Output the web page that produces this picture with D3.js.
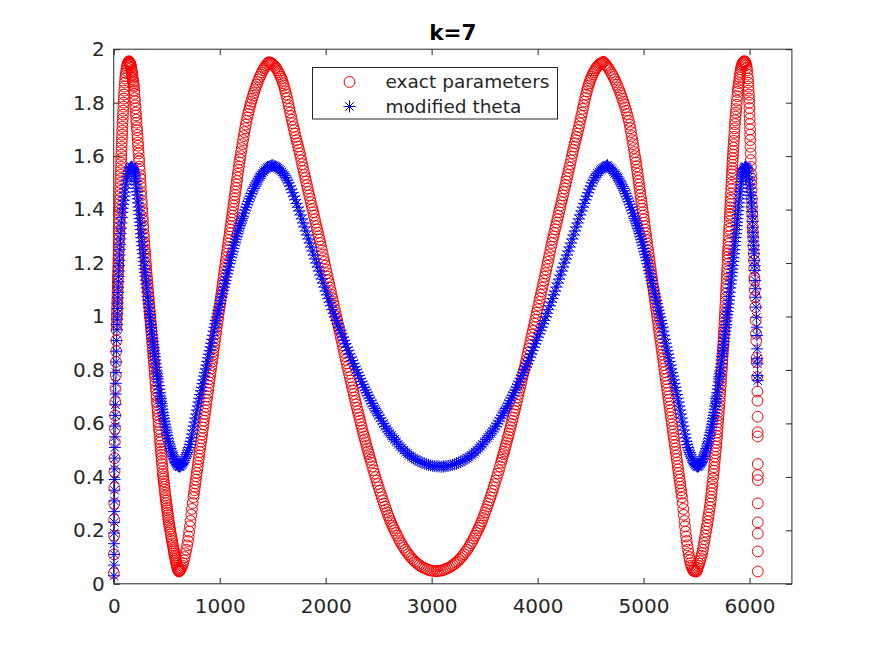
<!DOCTYPE html>
<html>
<head>
<meta charset="utf-8">
<script src="https://cdn.jsdelivr.net/npm/d3@7"></script>
<style>
body { margin: 0; background: #fff; }
svg text { font-family: "DejaVu Sans", sans-serif; }
</style>
</head>
<body>
<div id="chart"></div>
<script>
// Axis setup
const xDomain = [0, 6400];
const yDomain = [0, 2];
const xTicks = [0, 1000, 2000, 3000, 4000, 5000, 6000];
const yTicks = [0, 0.2, 0.4, 0.6, 0.8, 1, 1.2, 1.4, 1.6, 1.8, 2];
const titleText = "k=7";
const seriesNames = ["exact parameters", "modified theta"];

// Red circles, [x, y]
const exactParams = [
[1,.04],[2,.11],[3,.18],[4,.24],[5,.30],[6,.36],[7,.42],[8,.47],[10,.53],[11,.58],[13,.63],[15,.68],[17,.73],[19,.78],[21,.83],[23,.87],[25,.91],[27,.95],[28,.97],[29,.99],[30,1.005],[31,1.02],[32,1.035],[33,1.05],[34,1.065],[35,1.08],[36,1.095],[37,1.11],[38,1.125],[39,1.14],[40,1.155],[41,1.17],[42,1.185],[43,1.2],[44,1.215],[45,1.23],[46,1.245],[47,1.26],[48,1.275],[49,1.29],[50,1.305],[51,1.32],[52,1.335],[53,1.35],[54,1.365],[55,1.38],[56,1.395],[57,1.41],[58,1.425],[59,1.44],[60,1.455],[61,1.47],[62,1.485],[63,1.5],[64,1.515],[65,1.53],[66,1.545],[68,1.56],[69,1.575],[70,1.59],[71,1.605],[73,1.62],[74,1.635],[76,1.65],[77,1.665],[79,1.68],[80,1.695],[82,1.71],[83,1.725],[85,1.74],[87,1.755],[89,1.77],[91,1.785],[93,1.8],[95,1.815],[97,1.83],[99,1.845],[102,1.86],[105,1.875],[108,1.89],[111,1.9],[115,1.91],[118,1.92],[122,1.93],[126,1.938],[131,1.945],[136,1.95],[142,1.955],
[145,1.953],[148,1.951],[150,1.95],[153,1.947],[155,1.945],[158,1.942],[160,1.94],[163,1.934],[165,1.93],[168,1.922],[170,1.916],[173,1.908],[175,1.902],[178,1.894],[180,1.888],[183,1.88],[185,1.874],[188,1.866],[190,1.86],[193,1.844],[195,1.833],[198,1.817],[200,1.806],[203,1.79],[205,1.779],[208,1.763],[210,1.752],[213,1.736],[215,1.725],[218,1.708],[220,1.697],[223,1.68],[225,1.668],[228,1.651],[230,1.639],[233,1.622],[235,1.61],[238,1.592],[240,1.58],[243,1.561],[245,1.548],[248,1.529],[250,1.516],[253,1.498],[255,1.485],[258,1.466],[260,1.453],[263,1.434],[265,1.421],[268,1.402],[270,1.39],[273,1.371],[275,1.359],[278,1.34],[280,1.328],[283,1.309],[285,1.296],[288,1.279],[290,1.268],[293,1.252],[295,1.241],[298,1.225],[300,1.214],[303,1.198],[305,1.187],[308,1.171],[310,1.16],[313,1.146],[315,1.136],[318,1.122],[320,1.112],[323,1.098],[325,1.088],[328,1.074],[330,1.064],[333,1.05],[335,1.04],[338,1.026],[340,1.016],[343,1.002],[345,.992],[348,.978],[350,.968],[353,.954],[355,.944],[358,.93],[360,.92],[363,.906],[365,.896],[368,.882],[370,.872],[373,.858],[375,.848],[378,.834],[380,.824],[383,.81],[385,.8],[388,.784],[390,.774],[393,.758],[395,.748],[398,.732],[400,.722],[403,.706],[405,.696],[408,.68],[410,.67],[413,.655],[415,.645],[418,.63],[420,.62],[423,.605],[425,.595],[428,.58],[430,.57],[433,.555],[436,.54],[438,.529],[441,.517],[443,.506],[446,.494],[448,.483],[451,.471],[453,.46],[456,.448],[459,.434],[462,.42],[464,.411],[467,.402],[469,.393],[472,.384],[475,.373],[478,.363],[481,.352],[484,.341],[487,.33],[490,.32],[493,.311],[496,.302],[499,.293],[502,.284],[505,.275],[508,.266],[511,.257],[514,.248],[517,.239],[520,.23],[524,.222],[527,.214],[531,.205],[535,.197],[539,.186],[543,.176],[547,.168],[550,.16],[554,.151],[558,.143],[562,.134],[566,.126],[569,.119],[572,.113],[575,.106],[578,.1],[582,.093],[585,.087],[589,.08],[592,.074],[596,.067],[600,.06],[604,.056],[608,.052],[612,.049],[615,.046],
[620,.048],[625,.05],[632,.055],[640,.06],[648,.068],[655,.077],[663,.088],[670,.1],[678,.114],[685,.128],[693,.144],[700,.16],[706,.177],[712,.195],[719,.215],[725,.235],[732,.258],[738,.28],[745,.302],[752,.324],[757,.337],[761,.35],[766,.363],[770,.376],[775,.389],[779,.402],[784,.415],[788,.428],[793,.441],[797,.454],[802,.467],[806,.48],[811,.493],[815,.506],[820,.519],[824,.532],[829,.545],[833,.558],[838,.571],[842,.584],[847,.597],[851,.61],[856,.623],[860,.636],[865,.649],[869,.662],[874,.675],[878,.688],[883,.701],[887,.714],[892,.727],[896,.74],[901,.753],[905,.766],[910,.779],[914,.792],[919,.805],[923,.818],[928,.831],[932,.844],[937,.857],[941,.87],[946,.883],[950,.896],[955,.909],[959,.922],[964,.935],[968,.948],[973,.961],[977,.974],[982,.987],[986,1],[991,1.013],[995,1.026],[1000,1.039],[1004,1.052],[1009,1.065],[1013,1.078],[1018,1.091],[1022,1.104],[1027,1.117],[1031,1.13],[1036,1.143],[1040,1.156],[1045,1.169],[1049,1.182],[1054,1.195],[1058,1.208],[1063,1.221],[1067,1.234],[1072,1.247],[1076,1.26],[1081,1.273],[1085,1.286],[1090,1.299],[1094,1.312],[1099,1.325],[1103,1.338],[1108,1.351],[1112,1.364],[1117,1.377],[1121,1.39],[1126,1.403],[1130,1.416],[1135,1.429],[1139,1.442],[1144,1.455],[1148,1.468],[1153,1.481],[1157,1.494],[1162,1.507],[1166,1.52],[1171,1.534],[1176,1.548],[1181,1.562],[1186,1.576],[1191,1.588],[1196,1.6],[1202,1.615],[1208,1.63],[1214,1.645],[1220,1.66],[1227,1.675],[1233,1.69],[1240,1.704],[1246,1.718],[1253,1.732],[1260,1.745],[1268,1.758],[1275,1.77],[1283,1.782],[1290,1.793],[1298,1.804],[1306,1.815],[1314,1.826],[1322,1.836],[1331,1.847],[1340,1.857],[1349,1.867],[1358,1.877],[1368,1.887],[1378,1.896],[1388,1.905],[1398,1.913],[1408,1.921],[1418,1.928],[1428,1.934],[1438,1.94],[1448,1.945],[1459,1.95],
[1467,1.951],[1475,1.95],[1485,1.948],[1495,1.946],[1505,1.942],[1515,1.938],[1525,1.933],[1535,1.928],[1545,1.921],[1555,1.914],[1565,1.906],[1575,1.897],[1583,1.89],[1590,1.882],[1598,1.873],[1605,1.864],[1613,1.853],[1620,1.842],[1628,1.83],[1635,1.818],[1643,1.804],[1650,1.79],[1658,1.777],[1665,1.763],[1673,1.75],[1680,1.736],[1688,1.723],[1695,1.709],[1703,1.697],[1710,1.684],[1718,1.672],[1725,1.66],[1733,1.648],[1740,1.636],[1748,1.624],[1755,1.611],[1763,1.598],[1770,1.584],[1778,1.57],[1785,1.557],[1793,1.544],[1800,1.53],[1808,1.518],[1815,1.505],[1823,1.492],[1830,1.479],[1838,1.466],[1845,1.453],[1853,1.44],[1860,1.428],[1868,1.415],[1875,1.402],[1883,1.39],[1890,1.377],[1898,1.364],[1905,1.351],[1913,1.338],[1920,1.326],[1928,1.313],[1935,1.3],[1943,1.288],[1950,1.275],[1958,1.261],[1965,1.247],[1973,1.232],[1980,1.218],[1988,1.204],[1995,1.19],[2003,1.176],[2010,1.162],[2018,1.149],[2025,1.135],[2033,1.122],[2040,1.108],[2048,1.095],[2055,1.081],[2063,1.068],[2070,1.054],[2078,1.041],[2085,1.027],[2093,1.014],[2100,1],[2108,.987],[2115,.973],[2123,.96],[2130,.946],[2138,.933],[2145,.919],[2153,.906],[2160,.892],[2168,.879],[2175,.865],[2183,.852],[2190,.838],[2198,.825],[2205,.811],[2213,.799],[2220,.786],[2228,.773],[2235,.76],[2243,.748],[2250,.735],[2258,.723],[2265,.71],[2273,.697],[2280,.684],[2288,.671],[2295,.658],[2303,.646],[2310,.634],[2318,.622],[2325,.61],[2333,.598],[2340,.586],[2348,.574],[2355,.562],[2363,.551],[2370,.54],[2378,.529],[2385,.517],[2393,.506],[2400,.495],[2408,.485],[2415,.474],[2423,.464],[2430,.453],[2440,.439],[2450,.425],[2460,.412],[2470,.399],[2480,.386],[2490,.373],[2500,.361],[2510,.348],[2520,.336],[2530,.324],[2540,.312],[2550,.3],[2560,.289],[2570,.278],[2580,.267],[2590,.256],[2600,.246],[2610,.235],[2620,.226],[2630,.217],[2640,.209],[2650,.2],[2663,.19],[2675,.18],[2688,.17],[2700,.16],[2713,.152],[2725,.143],[2738,.135],[2750,.127],[2765,.119],[2780,.111],[2795,.104],[2810,.096],[2825,.09],[2840,.084],[2855,.079],[2870,.074],[2885,.07],[2900,.065],[2918,.061],[2935,.058],[2953,.055],[2970,.052],[2988,.05],[3005,.049],[3025,.048],[3045,.047],
[3060,.048],[3080,.049],[3097,.05],[3115,.052],[3132,.055],[3150,.058],[3167,.061],[3185,.065],[3200,.07],[3215,.074],[3230,.079],[3245,.084],[3260,.09],[3275,.096],[3290,.104],[3305,.111],[3320,.119],[3335,.127],[3347,.135],[3360,.143],[3372,.152],[3385,.16],[3397,.17],[3410,.18],[3422,.19],[3435,.2],[3445,.209],[3455,.217],[3465,.226],[3475,.235],[3485,.246],[3495,.256],[3505,.267],[3515,.278],[3525,.289],[3535,.3],[3545,.312],[3555,.324],[3565,.336],[3575,.348],[3585,.361],[3595,.373],[3605,.386],[3615,.399],[3625,.412],[3635,.425],[3645,.439],[3655,.453],[3662,.464],[3670,.474],[3677,.485],[3685,.495],[3692,.506],[3700,.517],[3707,.529],[3715,.54],[3722,.551],[3730,.562],[3737,.574],[3745,.586],[3752,.598],[3760,.61],[3767,.622],[3775,.634],[3782,.646],[3790,.658],[3797,.671],[3805,.684],[3812,.697],[3820,.71],[3827,.723],[3835,.735],[3842,.748],[3850,.76],[3857,.773],[3865,.786],[3872,.799],[3880,.811],[3887,.825],[3895,.838],[3902,.852],[3910,.865],[3917,.879],[3925,.892],[3932,.906],[3940,.919],[3947,.933],[3955,.946],[3962,.96],[3970,.973],[3977,.987],[3985,1],[3992,1.014],[4000,1.027],[4007,1.041],[4015,1.054],[4022,1.068],[4030,1.081],[4037,1.095],[4045,1.108],[4052,1.122],[4060,1.135],[4067,1.149],[4075,1.162],[4082,1.176],[4090,1.19],[4097,1.204],[4105,1.218],[4112,1.232],[4120,1.247],[4127,1.261],[4135,1.275],[4142,1.288],[4150,1.3],[4157,1.313],[4165,1.326],[4172,1.338],[4180,1.351],[4187,1.364],[4195,1.377],[4202,1.39],[4210,1.402],[4217,1.415],[4225,1.428],[4232,1.44],[4240,1.453],[4247,1.466],[4255,1.479],[4262,1.492],[4270,1.505],[4277,1.518],[4285,1.53],[4292,1.544],[4300,1.557],[4307,1.57],[4315,1.584],[4322,1.598],[4330,1.611],[4337,1.624],[4345,1.636],[4352,1.648],[4360,1.66],[4367,1.672],[4375,1.684],[4382,1.697],[4390,1.709],[4397,1.723],[4405,1.736],[4412,1.75],[4420,1.763],[4427,1.777],[4435,1.79],[4442,1.804],[4450,1.818],[4457,1.83],[4465,1.842],[4472,1.853],[4480,1.864],[4487,1.873],[4495,1.882],[4502,1.89],[4510,1.897],[4520,1.906],[4530,1.914],[4540,1.921],[4550,1.928],[4560,1.933],[4570,1.938],[4580,1.942],[4590,1.946],[4600,1.948],[4610,1.95],[4618,1.951],[4623,1.953],
[4637,1.945],[4648,1.94],[4659,1.934],[4670,1.928],[4681,1.921],[4692,1.913],[4704,1.905],[4715,1.896],[4727,1.887],[4738,1.877],[4749,1.867],[4759,1.857],[4770,1.847],[4780,1.836],[4790,1.826],[4799,1.815],[4809,1.804],[4818,1.793],[4827,1.782],[4836,1.77],[4844,1.758],[4853,1.745],[4861,1.732],[4869,1.718],[4875,1.704],[4882,1.69],[4888,1.675],[4895,1.66],[4901,1.645],[4907,1.63],[4913,1.615],[4919,1.6],[4924,1.588],[4929,1.576],[4934,1.562],[4939,1.548],[4944,1.534],[4949,1.52],[4953,1.507],[4958,1.494],[4962,1.481],[4967,1.468],[4971,1.455],[4976,1.442],[4980,1.429],[4985,1.416],[4989,1.403],[4994,1.39],[4998,1.377],[5003,1.364],[5007,1.351],[5012,1.338],[5016,1.325],[5021,1.312],[5025,1.299],[5030,1.286],[5034,1.273],[5039,1.26],[5043,1.247],[5048,1.234],[5052,1.221],[5057,1.208],[5061,1.195],[5066,1.182],[5070,1.169],[5075,1.156],[5079,1.143],[5084,1.13],[5088,1.117],[5093,1.104],[5097,1.091],[5102,1.078],[5106,1.065],[5111,1.052],[5115,1.039],[5120,1.026],[5124,1.013],[5129,1],[5133,.987],[5138,.974],[5142,.961],[5147,.948],[5151,.935],[5156,.922],[5160,.909],[5165,.896],[5169,.883],[5174,.87],[5178,.857],[5183,.844],[5187,.831],[5192,.818],[5196,.805],[5201,.792],[5205,.779],[5210,.766],[5214,.753],[5219,.74],[5223,.727],[5228,.714],[5232,.701],[5237,.688],[5241,.675],[5246,.662],[5250,.649],[5255,.636],[5259,.623],[5264,.61],[5268,.597],[5273,.584],[5277,.571],[5282,.558],[5286,.545],[5291,.532],[5295,.519],[5300,.506],[5304,.493],[5309,.48],[5313,.467],[5318,.454],[5322,.441],[5327,.428],[5331,.415],[5336,.402],[5340,.389],[5345,.376],[5349,.363],[5354,.35],[5358,.337],[5363,.324],[5369,.302],[5375,.28],[5380,.258],[5386,.235],[5391,.215],[5397,.195],[5402,.177],[5407,.16],[5413,.144],[5419,.128],[5425,.114],[5431,.1],[5437,.088],[5444,.077],[5450,.068],[5457,.06],[5464,.055],[5470,.05],[5474,.048],[5485,.047],[5493,.046],[5500,.046],
[5505,.052],[5510,.06],[5518,.067],[5525,.075],[5533,.085],[5540,.095],[5547,.105],[5553,.115],[5559,.127],[5565,.14],[5571,.153],[5577,.167],[5583,.181],[5589,.195],[5595,.208],[5600,.22],[5605,.234],[5610,.247],[5615,.26],[5620,.273],[5625,.287],[5630,.3],[5634,.313],[5637,.326],[5641,.339],[5644,.352],[5648,.365],[5651,.378],[5656,.394],[5660,.41],[5663,.423],[5666,.436],[5669,.449],[5672,.462],[5675,.475],[5678,.488],[5681,.501],[5684,.514],[5687,.527],[5690,.54],[5693,.553],[5695,.566],[5698,.579],[5700,.592],[5703,.605],[5705,.618],[5708,.631],[5710,.644],[5713,.657],[5715,.67],[5718,.684],[5720,.698],[5723,.712],[5725,.726],[5728,.74],[5730,.754],[5733,.768],[5735,.782],[5738,.796],[5740,.81],[5742,.824],[5744,.838],[5746,.852],[5748,.866],[5750,.88],[5752,.894],[5754,.908],[5756,.922],[5758,.936],[5760,.95],[5762,.965],[5764,.98],[5766,.995],[5768,1.01],[5770,1.025],[5772,1.04],[5774,1.055],[5776,1.07],[5778,1.085],[5780,1.1],[5782,1.112],[5783,1.124],[5785,1.14],[5787,1.156],[5789,1.168],[5790,1.18],[5792,1.196],[5794,1.212],[5796,1.224],[5797,1.236],[5799,1.248],[5800,1.26],[5802,1.272],[5803,1.284],[5805,1.3],[5807,1.316],[5809,1.328],[5810,1.34],[5812,1.356],[5814,1.372],[5816,1.384],[5817,1.396],[5819,1.408],[5820,1.42],[5822,1.432],[5823,1.444],[5825,1.46],[5827,1.476],[5829,1.488],[5830,1.5],[5832,1.516],[5834,1.532],[5836,1.544],[5837,1.556],[5839,1.568],[5840,1.58],[5842,1.593],[5844,1.606],[5846,1.619],[5848,1.631],[5850,1.644],[5852,1.657],[5855,1.672],[5857,1.688],[5860,1.704],[5862,1.72],[5865,1.734],[5868,1.748],[5871,1.762],[5874,1.776],[5878,1.792],[5881,1.808],[5885,1.824],[5888,1.84],[5892,1.851],[5895,1.861],[5899,1.873],[5903,1.885],[5907,1.895],[5910,1.905],[5914,1.915],[5918,1.925],[5923,1.933],[5927,1.94],[5933,1.945],[5938,1.95],[5944,1.953],[5950,1.955],
[5955,1.954],[5960,1.952],[5965,1.947],[5970,1.94],[5974,1.93],[5978,1.92],[5982,1.905],[5985,1.89],[5988,1.875],[5990,1.86],[5992,1.845],[5994,1.83],[5996,1.815],[5997,1.8],[5999,1.78],[6000,1.76],[6002,1.74],[6003,1.72],[6005,1.7],[6006,1.68],[6007,1.66],[6009,1.635],[6010,1.61],[6012,1.585],[6013,1.56],[6015,1.534],[6017,1.515],[6018,1.497],[6020,1.472],[6022,1.44],[6024,1.41],[6026,1.385],[6028,1.36],[6030,1.335],[6032,1.316],[6034,1.297],[6037,1.265],[6040,1.235],[6042,1.21],[6044,1.18],[6046,1.147],[6047,1.135],[6050,1.1],[6052,1.072],[6055,1.035],[6058,.985],[6061,.936],[6064,.91],[6068,.845],[6069,.829],[6072,.773],[6074,.719],[6075,.685],[6076,.625],[6077,.567],[6077,.551],[6078,.448],[6078,.407],[6078,.388],[6078,.301],[6078,.23],[6078,.188],[6078,.121],[6078,.046]
];

// Blue asterisks, [x, y]
const modifiedTheta = [
[2,.03],[2,.07],[3,.11],[3,.15],[4,.19],[5,.23],[5,.27],[6,.31],[7,.35],[8,.39],[9,.43],[10,.47],[11,.51],[12,.55],[13,.59],[15,.63],[16,.67],[18,.71],[19,.75],[21,.79],[23,.83],[25,.87],[27,.91],[30,.95],[31,.97],[33,.99],[34,1.01],[36,1.03],[37,1.05],[39,1.07],[40,1.09],[42,1.11],[44,1.13],[46,1.15],[48,1.17],[50,1.19],[52,1.21],[55,1.23],[57,1.25],[60,1.27],[63,1.29],[66,1.31],[69,1.33],[73,1.35],[77,1.37],[81,1.39],[85,1.405],[90,1.42],[95,1.435],[100,1.45],[105,1.465],[110,1.48],[116,1.495],[122,1.51],[128,1.523],[135,1.535],[142,1.545],[150,1.553],[158,1.558],[166,1.56],
[171,1.559],[175,1.557],[180,1.554],[185,1.55],[189,1.544],[193,1.538],[197,1.532],[200,1.525],[204,1.515],[207,1.505],[211,1.493],[215,1.48],[219,1.467],[222,1.455],[226,1.44],[230,1.425],[234,1.41],[237,1.396],[241,1.381],[244,1.366],[247,1.353],[250,1.34],[254,1.325],[257,1.31],[261,1.295],[264,1.28],[268,1.265],[272,1.25],[276,1.235],[280,1.22],[284,1.206],[288,1.191],[292,1.178],[295,1.165],[299,1.151],[303,1.136],[307,1.122],[311,1.107],[316,1.091],[320,1.075],[324,1.061],[328,1.047],[332,1.033],[336,1.019],[340,1.007],[343,.995],[347,.983],[350,.97],[354,.958],[358,.945],[362,.932],[366,.919],[370,.907],[374,.894],[378,.883],[381,.872],[385,.861],[388,.85],[393,.837],[397,.823],[402,.81],[406,.796],[410,.786],[413,.776],[417,.766],[420,.755],[425,.742],[430,.728],[435,.715],[440,.702],[444,.693],[447,.683],[451,.674],[454,.665],[459,.653],[464,.641],[469,.63],[474,.619],[479,.608],[484,.597],[490,.586],[495,.575],[500,.565],[505,.555],[511,.544],[517,.533],[524,.524],[530,.515],[537,.506],[543,.497],[549,.49],[555,.482],[562,.476],[568,.469],[574,.464],[580,.458],[586,.454],[592,.449],[599,.446],[605,.442],[612,.44],[620,.438],
[628,.44],[635,.443],[643,.446],[650,.45],[658,.455],[665,.461],[673,.468],[680,.475],[688,.483],[695,.491],[703,.5],[710,.51],[718,.521],[725,.533],[733,.546],[740,.56],[748,.575],[755,.59],[763,.605],[770,.62],[778,.635],[785,.65],[793,.665],[800,.68],[808,.694],[815,.708],[823,.722],[830,.735],[838,.749],[845,.763],[853,.777],[860,.79],[868,.804],[875,.818],[883,.832],[890,.845],[898,.859],[905,.872],[913,.886],[920,.9],[928,.915],[935,.93],[943,.945],[950,.96],[958,.973],[965,.985],[973,.998],[980,1.01],[988,1.023],[995,1.035],[1003,1.048],[1010,1.06],[1018,1.073],[1025,1.085],[1033,1.098],[1040,1.11],[1048,1.123],[1055,1.135],[1063,1.148],[1070,1.16],[1078,1.173],[1085,1.185],[1093,1.198],[1100,1.21],[1108,1.222],[1115,1.233],[1123,1.244],[1130,1.255],[1138,1.267],[1145,1.278],[1153,1.289],[1160,1.3],[1168,1.31],[1175,1.32],[1183,1.33],[1190,1.34],[1198,1.349],[1205,1.358],[1213,1.367],[1220,1.375],[1230,1.387],[1240,1.398],[1250,1.409],[1260,1.42],[1270,1.43],[1280,1.44],[1290,1.45],[1300,1.46],[1310,1.47],[1320,1.479],[1330,1.487],[1340,1.495],[1350,1.503],[1360,1.51],[1370,1.517],[1380,1.524],[1390,1.53],[1400,1.535],[1413,1.542],[1425,1.548],[1438,1.553],[1450,1.557],[1463,1.56],[1475,1.563],[1488,1.565],[1500,1.566],
[1513,1.564],[1525,1.561],[1538,1.558],[1550,1.555],[1563,1.551],[1575,1.546],[1588,1.541],[1600,1.535],[1613,1.527],[1625,1.519],[1638,1.51],[1650,1.5],[1663,1.488],[1675,1.476],[1688,1.463],[1700,1.45],[1713,1.437],[1725,1.423],[1738,1.409],[1750,1.395],[1763,1.38],[1775,1.365],[1788,1.35],[1800,1.335],[1813,1.32],[1825,1.305],[1838,1.29],[1850,1.275],[1863,1.26],[1875,1.245],[1888,1.23],[1900,1.215],[1913,1.2],[1925,1.185],[1938,1.17],[1950,1.155],[1963,1.14],[1975,1.125],[1988,1.11],[2000,1.095],[2013,1.081],[2025,1.067],[2038,1.054],[2050,1.04],[2063,1.026],[2075,1.012],[2088,.999],[2100,.985],[2113,.973],[2125,.96],[2138,.948],[2150,.935],[2163,.923],[2175,.91],[2188,.898],[2200,.885],[2213,.873],[2225,.86],[2238,.848],[2250,.835],[2263,.824],[2275,.812],[2288,.801],[2300,.79],[2313,.779],[2325,.767],[2338,.756],[2350,.745],[2363,.735],[2375,.725],[2388,.715],[2400,.705],[2413,.695],[2425,.685],[2438,.675],[2450,.665],[2463,.656],[2475,.647],[2488,.639],[2500,.63],[2515,.62],[2530,.609],[2545,.599],[2560,.589],[2575,.58],[2590,.571],[2605,.563],[2620,.555],[2635,.547],[2650,.54],[2668,.531],[2685,.522],[2703,.514],[2720,.507],[2738,.5],[2755,.493],[2773,.487],[2790,.481],[2810,.475],[2830,.47],[2850,.465],[2870,.461],[2890,.457],[2910,.453],[2930,.45],[2950,.447],[2970,.445],[2990,.443],[3010,.441],[3030,.44],[3050,.44],[3070,.439],[3090,.438],[3110,.438],
[3115,.44],[3135,.44],[3155,.441],[3175,.443],[3195,.445],[3215,.447],[3235,.45],[3255,.453],[3275,.457],[3295,.461],[3315,.465],[3335,.47],[3355,.475],[3375,.481],[3392,.487],[3410,.493],[3427,.5],[3445,.507],[3462,.514],[3480,.522],[3497,.531],[3515,.54],[3530,.547],[3545,.555],[3560,.563],[3575,.571],[3590,.58],[3605,.589],[3620,.599],[3635,.609],[3650,.62],[3665,.63],[3677,.639],[3690,.647],[3702,.656],[3715,.665],[3727,.675],[3740,.685],[3752,.695],[3765,.705],[3777,.715],[3790,.725],[3802,.735],[3815,.745],[3827,.756],[3840,.767],[3852,.779],[3865,.79],[3877,.801],[3890,.812],[3902,.824],[3915,.835],[3927,.848],[3940,.86],[3952,.873],[3965,.885],[3977,.898],[3990,.91],[4002,.923],[4015,.935],[4027,.948],[4040,.96],[4052,.973],[4065,.985],[4077,.999],[4090,1.012],[4102,1.026],[4115,1.04],[4127,1.054],[4140,1.067],[4152,1.081],[4165,1.095],[4177,1.11],[4190,1.125],[4202,1.14],[4215,1.155],[4227,1.17],[4240,1.185],[4252,1.2],[4265,1.215],[4277,1.23],[4290,1.245],[4302,1.26],[4315,1.275],[4327,1.29],[4340,1.305],[4352,1.32],[4365,1.335],[4377,1.35],[4390,1.365],[4402,1.38],[4415,1.395],[4427,1.409],[4440,1.423],[4452,1.437],[4465,1.45],[4477,1.463],[4490,1.476],[4502,1.488],[4515,1.5],[4527,1.51],[4540,1.519],[4552,1.527],[4565,1.535],[4577,1.541],[4590,1.546],[4602,1.551],[4615,1.555],[4627,1.558],[4640,1.561],[4652,1.564],[4660,1.566],
[4667,1.56],[4680,1.557],[4692,1.553],[4705,1.548],[4717,1.542],[4730,1.535],[4740,1.53],[4750,1.524],[4760,1.517],[4770,1.51],[4780,1.503],[4790,1.495],[4800,1.487],[4810,1.479],[4820,1.47],[4830,1.46],[4840,1.45],[4850,1.44],[4860,1.43],[4870,1.42],[4880,1.409],[4890,1.398],[4900,1.387],[4910,1.375],[4917,1.367],[4925,1.358],[4932,1.349],[4940,1.34],[4947,1.33],[4955,1.32],[4962,1.31],[4970,1.3],[4977,1.289],[4985,1.278],[4992,1.267],[5000,1.255],[5007,1.244],[5015,1.233],[5022,1.222],[5030,1.21],[5037,1.198],[5045,1.185],[5052,1.173],[5060,1.16],[5067,1.148],[5075,1.135],[5082,1.123],[5090,1.11],[5097,1.098],[5105,1.085],[5112,1.073],[5120,1.06],[5127,1.048],[5135,1.035],[5142,1.023],[5150,1.01],[5157,.998],[5165,.985],[5172,.973],[5180,.96],[5187,.945],[5195,.93],[5202,.915],[5210,.9],[5217,.886],[5225,.872],[5232,.859],[5240,.845],[5247,.832],[5255,.818],[5262,.804],[5270,.79],[5277,.777],[5285,.763],[5292,.749],[5300,.735],[5307,.722],[5315,.708],[5322,.694],[5330,.68],[5337,.665],[5345,.65],[5352,.635],[5360,.62],[5367,.605],[5375,.59],[5382,.575],[5390,.56],[5397,.546],[5405,.533],[5412,.521],[5420,.51],[5427,.5],[5435,.491],[5442,.483],[5450,.475],[5457,.468],[5465,.461],[5472,.455],[5480,.45],[5487,.446],[5495,.443],[5502,.44],[5510,.438],
[5518,.44],[5525,.442],[5531,.446],[5538,.449],[5544,.454],[5550,.458],[5556,.464],[5562,.469],[5568,.476],[5575,.482],[5581,.49],[5587,.497],[5593,.506],[5600,.515],[5606,.524],[5613,.533],[5619,.544],[5625,.555],[5630,.565],[5635,.575],[5640,.586],[5646,.597],[5651,.608],[5656,.619],[5661,.63],[5666,.641],[5671,.653],[5676,.665],[5679,.674],[5683,.683],[5686,.693],[5690,.702],[5695,.715],[5700,.728],[5705,.742],[5710,.755],[5713,.766],[5717,.776],[5720,.786],[5724,.796],[5728,.81],[5733,.823],[5737,.837],[5742,.85],[5745,.861],[5749,.872],[5752,.883],[5756,.894],[5760,.907],[5764,.919],[5768,.932],[5772,.945],[5776,.958],[5780,.97],[5783,.983],[5787,.995],[5790,1.007],[5794,1.019],[5798,1.033],[5802,1.047],[5806,1.061],[5810,1.075],[5814,1.091],[5819,1.107],[5823,1.122],[5827,1.136],[5831,1.151],[5835,1.165],[5838,1.178],[5842,1.191],[5846,1.206],[5850,1.22],[5854,1.235],[5858,1.25],[5862,1.265],[5866,1.28],[5869,1.295],[5873,1.31],[5876,1.325],[5880,1.34],[5883,1.353],[5886,1.366],[5889,1.381],[5893,1.396],[5896,1.41],[5900,1.425],[5904,1.44],[5908,1.455],[5911,1.467],[5915,1.48],[5919,1.493],[5923,1.505],[5926,1.515],[5930,1.525],[5933,1.532],[5937,1.538],[5941,1.544],[5945,1.55],[5950,1.554],[5955,1.557],[5959,1.559],[5964,1.56],
[5970,1.558],[5975,1.557],[5980,1.552],[5985,1.545],[5990,1.535],[5995,1.522],[5999,1.51],[6003,1.495],[6007,1.48],[6010,1.465],[6013,1.453],[6016,1.44],[6019,1.425],[6021,1.41],[6024,1.393],[6026,1.375],[6029,1.355],[6031,1.334],[6033,1.315],[6035,1.297],[6037,1.282],[6039,1.266],[6041,1.25],[6043,1.235],[6046,1.21],[6048,1.19],[6050,1.172],[6053,1.135],[6056,1.104],[6059,1.072],[6062,1.035],[6065,.997],[6068,.96],[6070,.929],[6072,.879],[6074,.842],[6075,.823],[6076,.779],[6077,.76]
];

// Figure and axes box (MATLAB default position)
const width = 875;
const height = 656;
const axLeft = 113.75, axRight = 791.9, axTop = 49.2, axBottom = 583.8;
const textColor = "#262626";
const red = "#ff0000";
const blue = "#0000ff";

const svg = d3.select("#chart")
  .append("svg")
  .attr("width", width)
  .attr("height", height)
  .style("background", "#fff");

const x = d3.scaleLinear().domain(xDomain).range([axLeft, axRight]);
const y = d3.scaleLinear().domain(yDomain).range([axBottom, axTop]);

// asterisk marker: plus and cross
const starPath = "M0,-6V6M-6,0H6M-4.3,-4.3L4.3,4.3M-4.3,4.3L4.3,-4.3";

// Axes, ticks pointing inward on all four sides
const tickLen = 6;
const xAxisG = svg.append("g")
  .attr("transform", "translate(0," + axBottom + ")")
  .call(d3.axisBottom(x).tickValues(xTicks).tickSize(-tickLen).tickPadding(15).tickFormat(d => d));
const xTopG = svg.append("g")
  .attr("transform", "translate(0," + axTop + ")")
  .call(d3.axisTop(x).tickValues(xTicks).tickSize(-tickLen).tickFormat(""));
const yAxisG = svg.append("g")
  .attr("transform", "translate(" + axLeft + ",0)")
  .call(d3.axisLeft(y).tickValues(yTicks).tickSize(-tickLen).tickPadding(9).tickFormat(d => d));
const yRightG = svg.append("g")
  .attr("transform", "translate(" + axRight + ",0)")
  .call(d3.axisRight(y).tickValues(yTicks).tickSize(-tickLen).tickFormat(""));

[xAxisG, xTopG, yAxisG, yRightG].forEach(g => {
  g.select(".domain").remove();
  g.selectAll(".tick line").attr("stroke", textColor).attr("stroke-width", 1);
  g.selectAll(".tick text")
    .attr("fill", textColor)
    .style("font-size", "20px");
});

// box
svg.append("rect")
  .attr("x", axLeft)
  .attr("y", axTop)
  .attr("width", axRight - axLeft)
  .attr("height", axBottom - axTop)
  .attr("fill", "none")
  .attr("stroke", textColor)
  .attr("stroke-width", 1);

// Data: red circles
svg.append("g")
  .selectAll("circle")
  .data(exactParams)
  .join("circle")
  .attr("cx", d => x(d[0]))
  .attr("cy", d => y(d[1]))
  .attr("r", 5.4)
  .attr("fill", "none")
  .attr("stroke", red)
  .attr("stroke-width", 1);

// Data: blue asterisks
svg.append("g")
  .selectAll("path")
  .data(modifiedTheta)
  .join("path")
  .attr("d", starPath)
  .attr("transform", d => "translate(" + x(d[0]) + "," + y(d[1]) + ")")
  .attr("fill", "none")
  .attr("stroke", blue)
  .attr("stroke-width", 1);

// Title
svg.append("text")
  .attr("x", (axLeft + axRight) / 2)
  .attr("y", 40)
  .attr("text-anchor", "middle")
  .attr("fill", "#000")
  .style("font-size", "21.5px")
  .style("font-weight", "bold")
  .text(titleText);

// Legend
const legend = svg.append("g");
legend.append("rect")
  .attr("x", 312.5)
  .attr("y", 67.5)
  .attr("width", 245)
  .attr("height", 51.5)
  .attr("fill", "#fff")
  .attr("stroke", textColor)
  .attr("stroke-width", 1);

const rowY = [82, 106.5];
legend.append("circle")
  .attr("cx", 349.5)
  .attr("cy", rowY[0])
  .attr("r", 5.4)
  .attr("fill", "none")
  .attr("stroke", red)
  .attr("stroke-width", 1);
legend.append("path")
  .attr("d", starPath)
  .attr("transform", "translate(349.5," + rowY[1] + ")")
  .attr("fill", "none")
  .attr("stroke", blue)
  .attr("stroke-width", 1);

legend.selectAll("text.label")
  .data(seriesNames)
  .join("text")
  .attr("class", "label")
  .attr("x", 385.5)
  .attr("y", (d, i) => rowY[i])
  .attr("dy", "0.35em")
  .attr("fill", textColor)
  .style("font-size", "18.5px")
  .text(d => d);
</script>
</body>
</html>
